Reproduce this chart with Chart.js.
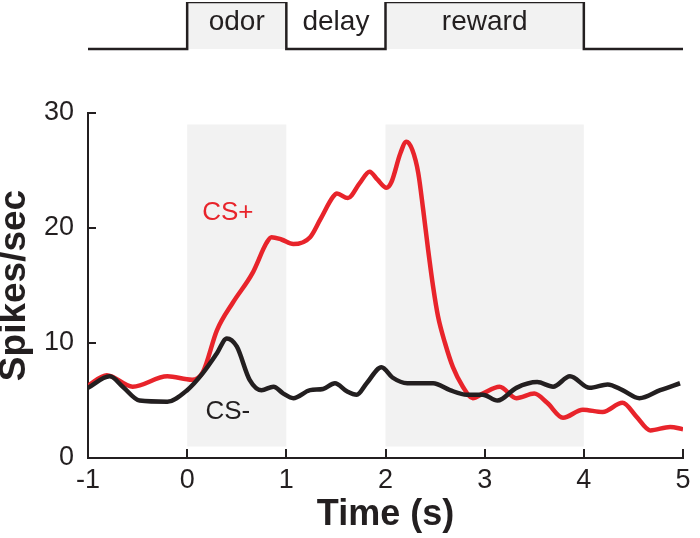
<!DOCTYPE html>
<html>
<head>
<meta charset="utf-8">
<script src="https://cdn.jsdelivr.net/npm/chart.js@4"></script>
<style>
  body { margin: 0; background: #fff; }
</style>
</head>
<body>
<canvas id="psth" width="700" height="538"></canvas>
<script>
// values
const csPlusTime = [-1.0, -0.81, -0.55, -0.2, 0.05, 0.16, 0.3, 0.46, 0.66, 0.8, 0.85, 0.95, 1.07, 1.24, 1.34, 1.47, 1.51, 1.62, 1.74, 1.84, 1.92, 2.01, 2.06, 2.15, 2.21, 2.27, 2.33, 2.38, 2.43, 2.48, 2.53, 2.6, 2.68, 2.78, 2.88, 2.98, 3.15, 3.32, 3.5, 3.63, 3.79, 3.99, 4.19, 4.39, 4.53, 4.67, 4.87, 5.0];
const csPlusRate = [6.3, 7.2, 6.2, 7.1, 6.8, 7.5, 11.1, 13.5, 16.1, 18.7, 19.2, 19.0, 18.6, 19.2, 20.7, 22.7, 23.0, 22.6, 23.9, 24.9, 24.2, 23.5, 24.0, 26.5, 27.5, 26.8, 24.8, 21.6, 18.1, 14.9, 12.3, 10.0, 7.9, 6.2, 5.2, 5.6, 6.2, 5.2, 5.6, 4.8, 3.5, 4.2, 4.0, 4.8, 3.6, 2.4, 2.7, 2.5];

const csMinusTime = [-1.0, -0.78, -0.65, -0.48, -0.2, 0.0, 0.16, 0.3, 0.4, 0.5, 0.63, 0.75, 0.87, 0.97, 1.07, 1.24, 1.37, 1.49, 1.61, 1.71, 1.81, 1.96, 2.07, 2.22, 2.48, 2.65, 2.82, 2.98, 3.13, 3.32, 3.53, 3.69, 3.86, 4.06, 4.24, 4.39, 4.56, 4.77, 4.97];
const csMinusRate = [6.1, 7.1, 6.2, 5.0, 4.9, 5.9, 7.4, 9.1, 10.4, 9.7, 6.8, 5.9, 6.2, 5.6, 5.2, 5.9, 6.0, 6.5, 5.8, 5.5, 6.5, 7.9, 7.0, 6.5, 6.5, 5.9, 5.5, 5.5, 5.0, 6.1, 6.6, 6.2, 7.1, 6.1, 6.4, 5.9, 5.2, 5.9, 6.5];

// trial epochs (s)
const epochNames = ['odor', 'delay', 'reward'];
const epochStart = [0, 1, 2];
const epochEnd = [1, 2, 4];
const epochOn = [1, 0, 1];

const xTicks = [-1, 0, 1, 2, 3, 4, 5];
const yTicks = [0, 10, 20, 30];
const shadeLow = 1;
const shadeHigh = 29;

const ink = '#231f20';
const red = '#e8242b';
const font = "'Liberation Sans', Arial, Helvetica, sans-serif";

// step trace for the trial structure at the top
const timingPoints = [{x: xTicks[0], y: 0}];
epochStart.forEach((s, i) => {
    timingPoints.push({x: s, y: epochOn[i]});
    timingPoints.push({x: epochEnd[i], y: 0});
});
timingPoints.push({x: xTicks[xTicks.length - 1], y: 0});

function pairs(xs, ys) {
    return xs.map((x, i) => ({x: x, y: ys[i]}));
}

// no label overhang padding, axes sit where they are told
function noPad(scale) {
    scale.paddingTop = 0;
    scale.paddingBottom = 0;
    scale.paddingLeft = 0;
    scale.paddingRight = 0;
}

const overlay = {
    id: 'overlay',
    beforeDatasetsDraw(chart) {
        const {ctx, scales: {x, y}} = chart;
        ctx.save();
        ctx.fillStyle = '#f2f2f2';
        epochStart.forEach((s, i) => {
            if (!epochOn[i]) return;
            const left = x.getPixelForValue(s);
            const right = x.getPixelForValue(epochEnd[i]);
            const top = y.getPixelForValue(shadeHigh);
            const bottom = y.getPixelForValue(shadeLow);
            ctx.fillRect(left, top, right - left, bottom - top);
        });
        ctx.restore();
    },
    afterDatasetsDraw(chart) {
        const {ctx, scales: {x, y, yTime}} = chart;
        ctx.save();
        ctx.textAlign = 'center';
        ctx.textBaseline = 'middle';
        ctx.font = '28px ' + font;
        ctx.fillStyle = ink;
        epochNames.forEach((name, i) => {
            const mid = (epochStart[i] + epochEnd[i]) / 2;
            ctx.fillText(name, x.getPixelForValue(mid), yTime.getPixelForValue(0.57));
        });
        ctx.font = '26px ' + font;
        ctx.fillStyle = red;
        ctx.fillText('CS+', x.getPixelForValue(0.41), y.getPixelForValue(21.3));
        ctx.fillStyle = ink;
        ctx.fillText('CS-', x.getPixelForValue(0.41), y.getPixelForValue(4.0));
        ctx.restore();
    }
};

const ctxPsth = document.getElementById('psth').getContext('2d');
const chartPsth = new Chart(ctxPsth, {
    type: 'line',
    data: {
        datasets: [{
            label: 'CS-',
            data: pairs(csMinusTime, csMinusRate),
            borderColor: ink,
            borderWidth: 4.5,
            pointRadius: 0,
            cubicInterpolationMode: 'monotone',
            yAxisID: 'y'
        }, {
            label: 'CS+',
            data: pairs(csPlusTime, csPlusRate),
            borderColor: red,
            borderWidth: 4.5,
            pointRadius: 0,
            cubicInterpolationMode: 'monotone',
            yAxisID: 'y'
        }, {
            label: 'epochs',
            data: timingPoints,
            borderColor: ink,
            borderWidth: 2.5,
            backgroundColor: '#f2f2f2',
            fill: 'origin',
            stepped: 'before',
            pointRadius: 0,
            yAxisID: 'yTime'
        }]
    },
    options: {
        responsive: false,
        animation: false,
        layout: { padding: { top: 2, right: 17, left: 0, bottom: 0 } },
        plugins: {
            legend: { display: false },
            tooltip: { enabled: false }
        },
        scales: {
            x: {
                type: 'linear',
                min: -1,
                max: 5,
                afterBuildTicks: (scale) => { scale.ticks = xTicks.map(v => ({value: v})); },
                afterFit: (scale) => { scale.height = 80; noPad(scale); },
                border: { color: ink, width: 2 },
                grid: { drawOnChartArea: false, tickLength: -9, color: ink, lineWidth: 2 },
                ticks: { color: ink, padding: 15, font: { family: font, size: 27 } },
                title: {
                    display: true,
                    text: 'Time (s)',
                    color: ink,
                    padding: { top: 0, bottom: 1 },
                    font: { family: font, size: 36, weight: 'bold' }
                }
            },
            y: {
                type: 'linear',
                position: 'left',
                stack: 'left',
                stackWeight: 345,
                weight: 0,
                min: 0,
                max: 30,
                afterBuildTicks: (scale) => { scale.ticks = yTicks.map(v => ({value: v})); },
                afterFit: (scale) => { scale.width = 88; noPad(scale); },
                border: { color: ink, width: 2 },
                grid: { drawOnChartArea: false, tickLength: -8, color: ink, lineWidth: 2 },
                ticks: { color: ink, padding: 22, font: { family: font, size: 27 } },
                title: {
                    display: true,
                    text: 'Spikes/sec',
                    color: ink,
                    padding: 0,
                    font: { family: font, size: 37, weight: 'bold', lineHeight: 0.8 }
                }
            },
            yTime: {
                type: 'linear',
                position: 'left',
                stack: 'left',
                stackWeight: 111,
                weight: 1,
                min: -1.362,
                max: 1,
                afterFit: (scale) => { scale.width = 88; noPad(scale); },
                border: { display: false },
                grid: { display: false },
                ticks: { display: false }
            }
        }
    },
    plugins: [overlay]
});
</script>
</body>
</html>
